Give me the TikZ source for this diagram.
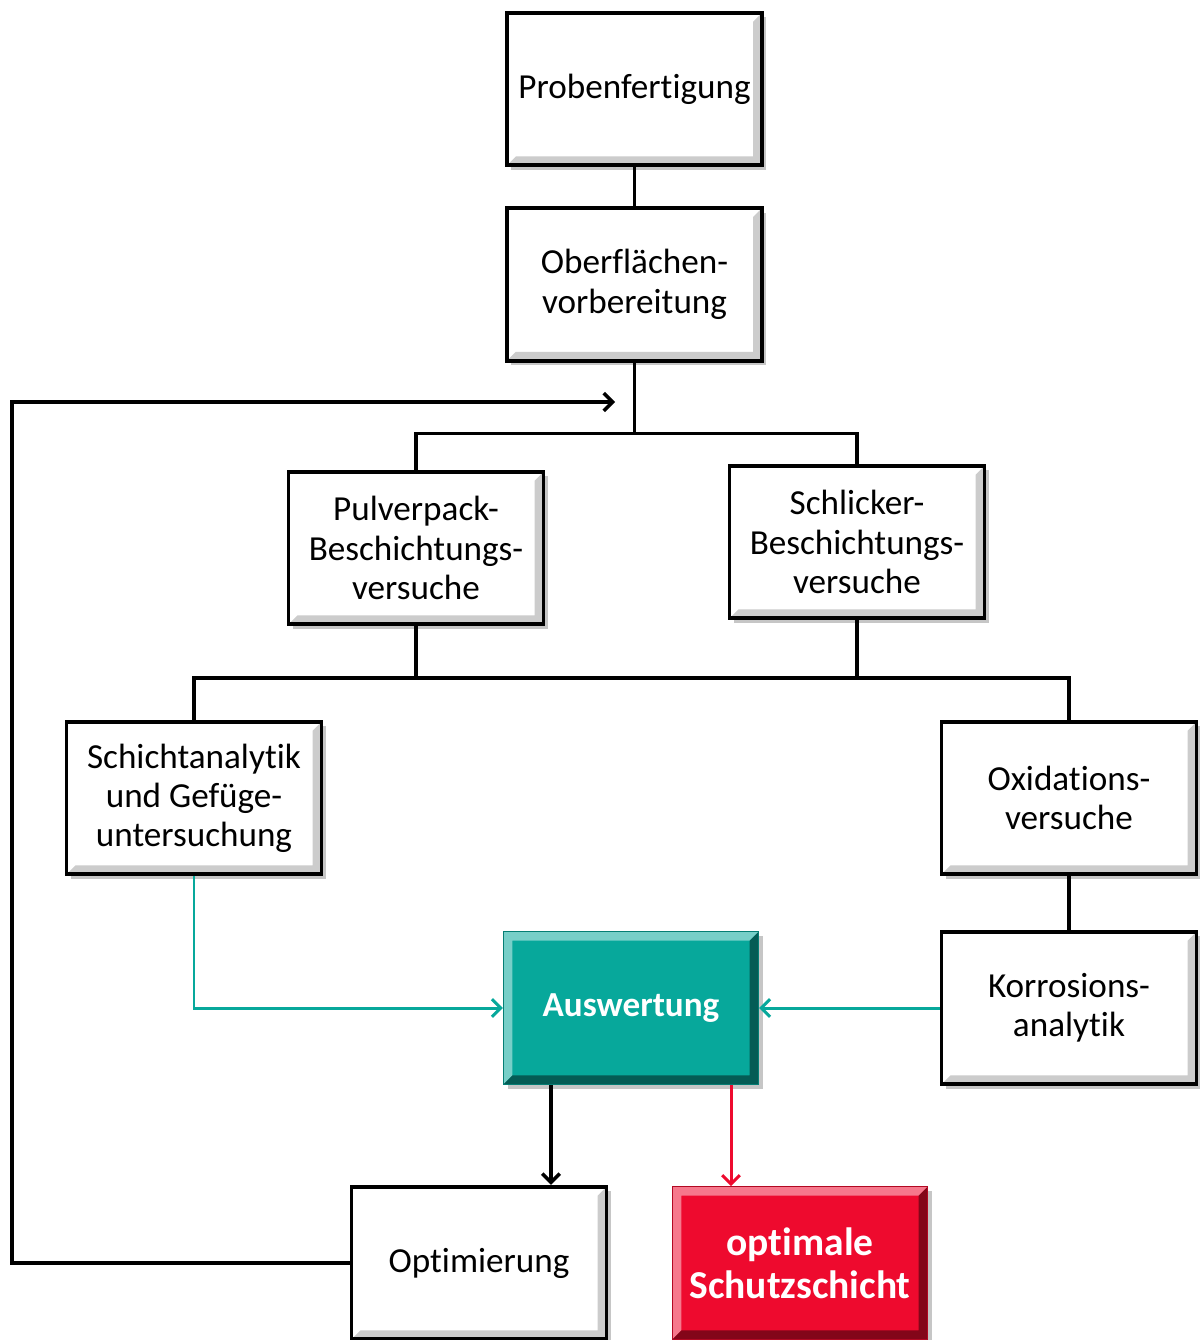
\documentclass[tikz,border=0pt]{standalone}
\usepackage{fontspec}
\setmainfont[Ligatures=CommonOff]{Carlito}
\usepackage{tikz}
\usetikzlibrary{arrows.meta,calc,positioning,shadows}
\usepackage{xcolor}
\definecolor{ink}{HTML}{000000}
\definecolor{lagoon}{HTML}{07A89B}
\definecolor{signal}{HTML}{EE0A2E}
\tikzset{bevelbox/.style 2 args={path picture={\fill[#1] (path picture bounding box.south west) -- (path picture bounding box.north west) -- (path picture bounding box.north east) -- ([shift={(-5pt,-5pt)}]path picture bounding box.north east) -- ([shift={(5pt,-5pt)}]path picture bounding box.north west) -- ([shift={(5pt,5pt)}]path picture bounding box.south west) -- cycle; \fill[#2] (path picture bounding box.south west) -- (path picture bounding box.south east) -- (path picture bounding box.north east) -- ([shift={(-5pt,-5pt)}]path picture bounding box.north east) -- ([shift={(-5pt,5pt)}]path picture bounding box.south east) -- ([shift={(5pt,5pt)}]path picture bounding box.south west) -- cycle;}}, stepbox/.style={draw=ink,fill=white,line width=2.2pt,minimum width=5.1cm,minimum height=3.05cm,align=center,font=\fontsize{20}{22.3}\selectfont,bevelbox={white}{black!20},drop shadow={shadow xshift=2.5pt,shadow yshift=-2.5pt,fill=black!50,opacity=.45}}, evalbox/.style={stepbox,draw=lagoon!75!black,line width=.8pt,fill=lagoon,text=white,font=\fontsize{20}{22.3}\selectfont\bfseries,bevelbox={lagoon!55!white}{lagoon!55!black}}, goalbox/.style={stepbox,draw=signal!75!black,line width=.8pt,fill=signal,text=white,font=\fontsize{22.5}{24.5}\selectfont\bfseries,bevelbox={signal!55!white}{signal!55!black}}, link/.style={line width=2.2pt,ink}, feed/.style={line width=1.7pt,lagoon,-{Straight Barb[length=5pt,width=10pt,line width=1.7pt]}}, flow/.style={line width=2.2pt,ink,-{Straight Barb[length=5pt,width=10pt,line width=2pt]}}, final/.style={line width=1.7pt,signal,-{Straight Barb[length=5pt,width=10pt,line width=1.7pt]}}}
\begin{document}
\begin{tikzpicture}
\useasboundingbox (0,0) rectangle (24,-26.8);
\node[stepbox] (probe) at (12.69,-1.78) {Probenfertigung};
\node[stepbox,below=0.78cm of probe] (ober) {Oberflächen-\\vorbereitung};
\node[stepbox] (pulver) at (8.32,-10.96) {Pulverpack-\\Beschichtungs-\\versuche};
\node[stepbox] (schlick) at (17.14,-10.84) {Schlicker-\\Beschichtungs-\\versuche};
\node[stepbox] (schicht) at (3.88,-15.96) {Schichtanalytik\\und Gefüge-\\untersuchung};
\node[stepbox] (oxid) at (21.38,-15.96) {Oxidations-\\versuche};
\node[evalbox] (ausw) at (12.62,-20.16) {Auswertung};
\node[stepbox] (korr) at (oxid |- ausw) {Korrosions-\\analytik};
\node[stepbox] (optim) at (9.58,-25.26) {Optimierung};
\node[goalbox] (schutz) at (16.0,-25.26) {optimale\\Schutzschicht};
\coordinate (split1) at ($(ober.south)+(0,-1.42)$);
\coordinate (split2) at (8.32,-13.56);
\coordinate (loop) at (0.24,-8.04);
\coordinate (fb) at (12.3,-8.04);
\draw[link] (probe) -- (ober);
\draw[link] (ober.south) -- (split1);
\draw[link] (pulver.north) |- (split1) -| (schlick.north);
\draw[link] (pulver.south) -- (split2);
\draw[link] (schlick.south) -- (schlick.south |- split2);
\draw[link] (schicht.north) |- (split2) -| (oxid.north);
\draw[link] (oxid) -- (korr);
\draw[flow] (optim.west) -| (loop) -- (fb);
\draw[feed] (schicht.south) |- (ausw.west);
\draw[feed] (korr.west) -- (ausw.east);
\draw[flow] ([xshift=-1.6cm]ausw.south) -- ([xshift=-1.6cm]ausw.south |- optim.north);
\draw[final] ([xshift=2cm]ausw.south) -- ([xshift=2cm]ausw.south |- schutz.north);
\end{tikzpicture}
\end{document}
